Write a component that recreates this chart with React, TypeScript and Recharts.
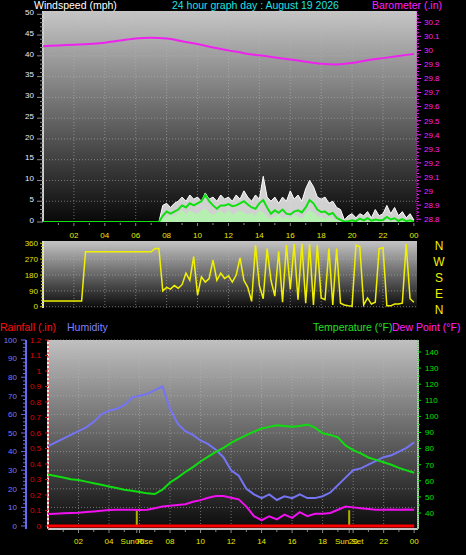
import React from 'react';
import { ComposedChart, Line, Area, XAxis, YAxis, CartesianGrid, ReferenceLine } from 'recharts';

const FONT = '"Liberation Sans", Arial, Helvetica, sans-serif';

// ---------------- texts ----------------
const TITLE = '24 hour graph day : August 19 2026';
const WIND_TITLE = 'Windspeed (mph)';
const BARO_TITLE = 'Barometer (.in)';
const RAIN_TITLE = 'Rainfall (.in)';
const HUM_TITLE = 'Humidity';
const TEMP_TITLE = 'Temperature (\u00b0F)';
const DEW_TITLE = 'Dew Point (\u00b0F)';

// ---------------- tick labels ----------------
const HOUR_MAJORS = [2, 4, 6, 8, 10, 12, 14, 16, 18, 20, 22, 24];
const WIND_MAJORS = [0, 5, 10, 15, 20, 25, 30, 35, 40, 45, 50];
const BARO_MAJORS = [28.8, 28.9, 29, 29.1, 29.2, 29.3, 29.4, 29.5, 29.6, 29.7, 29.8, 29.9, 30, 30.1, 30.2];
const DIR_MAJORS = [0, 90, 180, 270, 360];
const DIR_LETTERS = ['N', 'E', 'S', 'W', 'N'];
const HUM_MAJORS = [0, 10, 20, 30, 40, 50, 60, 70, 80, 90, 100];
const RAIN_MAJORS = [0, 0.1, 0.2, 0.3, 0.4, 0.5, 0.6, 0.7, 0.8, 0.9, 1, 1.1, 1.2];
const TEMP_MAJORS = [40, 50, 60, 70, 80, 90, 100, 110, 120, 130, 140];
const SUNRISE_H = 5.82;
const SUNSET_H = 19.74;

// ---------------- data ----------------
// wind, every 15 minutes from 00:00 to 24:00
const WIND_STEP_H = 0.25;
const windGust = [
  0, 0, 0, 0, 0, 0, 0, 0, 0, 0, 0, 0, 0, 0, 0, 0, 0, 0, 0, 0, 0, 0, 0, 0, 0, 0, 0, 0, 0, 0, 0,
  4, 4.5, 3.5, 4.5, 5, 6, 5, 6.5, 5.5, 6,
  5, 7, 5.5, 6, 5, 6.5, 5.5, 6, 5, 6.5,
  5.5, 7.5, 6, 5, 6.5, 5.5, 11, 6, 5, 6,
  4.5, 6, 5, 7.5, 5.5, 6.5, 5, 8, 10, 8.5,
  6, 5.5, 6, 4.5, 5, 3.5, 3, 0.5, 1.5, 2,
  1, 2, 1.5, 2.5, 1, 3, 1.5, 2, 4, 2,
  3.5, 1.5, 2.5, 1, 2, 0.5,
];
const windAvg = [
  0, 0, 0, 0, 0, 0, 0, 0, 0, 0, 0, 0, 0, 0, 0, 0, 0, 0, 0, 0, 0, 0, 0, 0, 0, 0, 0, 0, 0, 0, 0,
  1.5, 2.5, 2, 2.5, 3, 4, 3.5, 4.5, 4, 4.5,
  5, 6.5, 5, 4, 3.2, 4, 4, 4.3, 3.8, 4,
  4.5, 5, 4.2, 3.5, 3.2, 4.5, 5.3, 3.5, 2, 2.8,
  2.2, 3, 2, 1.8, 2.5, 2.8, 2.3, 3.5, 5.3, 4.5,
  3, 2.4, 2.5, 1.8, 2.2, 1, 0.5, 0.1, 0.2, 0.4,
  0.2, 0.8, 0.4, 0.9, 0.3, 0.6, 0.4, 0.5, 1.2, 0.6,
  0.9, 0.3, 0.7, 0.2, 0.4, 0.1,
];
const windLow = [
  0, 0, 0, 0, 0, 0, 0, 0, 0, 0, 0, 0, 0, 0, 0, 0, 0, 0, 0, 0, 0, 0, 0, 0, 0, 0, 0, 0, 0, 0, 0,
  0.5, 1, 1.5, 1, 2, 2.5, 1.5, 2.5, 2, 1.5,
  2.5, 3, 2, 1.5, 2, 2.5, 1.5, 2.5, 1.5, 2,
  2.5, 2, 1.5, 2, 1, 2.5, 2, 1, 0.5, 1,
  1.5, 0.5, 1, 0.5, 1.5, 1, 0.5, 1.5, 2.5, 2,
  1, 1, 0.5, 1, 0.5, 0.2, 0, 0, 0, 0,
  0, 0, 0, 0, 0, 0, 0, 0, 0, 0,
  0, 0, 0, 0, 0, 0,
];
const windDir = [
  32, 32, 32, 32, 32, 32, 32, 32, 32, 32, 32,
  312, 312, 312, 312, 312, 312, 312, 312, 312, 312, 312, 312, 312, 312, 312, 312, 312, 312,
  331, 331,
  90, 110, 100, 120, 105, 125, 190, 150, 284, 66,
  170, 140, 160, 265, 150, 190, 160, 175, 140, 180,
  277, 150, 110, 30, 350, 120, 45, 330, 150, 60,
  315, 25, 350, 100, 355, 40, 358, 20, 355, 10,
  350, 50, 40, 330, 10, 330, 20, 10, 5, 3,
  350, 340, 10, 50, 15, 25, 330, 335, 5, 5,
  15, 15, 20, 355, 45, 25,
];
// barometer, hourly
const BARO_STEP_H = 1;
const barometer = [
  30.03, 30.035, 30.04, 30.045, 30.055, 30.07, 30.085, 30.09, 30.085, 30.065,
  30.045, 30.02, 30.0, 29.98, 29.965, 29.95, 29.935, 29.92, 29.905, 29.9,
  29.91, 29.93, 29.945, 29.96, 29.975,
];
// climate, every 30 minutes
const CLIMATE_STEP_H = 0.5;
const humidity = [
  43, 45, 47, 49, 51, 53, 56, 60, 62, 63,
  65, 69, 70, 71, 73, 75, 63, 55, 51, 49,
  46, 44, 41, 37, 30, 27, 20, 17, 15, 17,
  14, 16, 15, 17, 15, 15, 16, 18, 22, 26,
  30, 31, 33, 35, 37, 38, 40, 42, 45,
];
const temperature = [
  64, 63, 62, 61, 60.5, 59.5, 58.5, 57.5, 56.5, 55.5,
  54.5, 53.8, 53, 52.2, 51.8, 54.5, 59, 62, 65.5, 68.5,
  72, 75, 78, 80.5, 83.5, 86, 88.4, 90.5, 92.5, 93.5,
  94.5, 94, 93.5, 94, 95, 93, 89.5, 88.5, 87, 82,
  79, 77, 74.5, 73, 71.5, 70, 68, 66.5, 65,
];
const dewPoint = [
  39.4, 39.6, 39.8, 40, 40.2, 40.6, 41, 41.4, 41.8, 42,
  42, 42, 41.9, 42, 43, 44, 44.5, 45, 45.5, 47,
  48, 49.5, 50.5, 50.5, 49.5, 48.5, 44, 38, 35.5, 38,
  36, 39, 37, 40.5, 38, 39.5, 39.5, 40, 42, 44,
  43.5, 43, 42.5, 42, 42, 42.2, 42, 42.2, 42,
];
const RAIN_STEP_H = 1;
const rainfall = [0, 0, 0, 0, 0, 0, 0, 0, 0, 0, 0, 0, 0, 0, 0, 0, 0, 0, 0, 0, 0, 0, 0, 0, 0];

// ---------------- helpers ----------------
const series = (step: number, values: number[]) => values.map((v, i) => ({ h: i * step, v }));
const steps = (a: number, b: number, s: number) => {
  const out: number[] = [];
  for (let i = 0; a + i * s <= b + 1e-9; i++) out.push(+(a + i * s).toFixed(4));
  return out;
};
const isIn = (arr: number[], v: number) => arr.some((m) => Math.abs(m - v) < 1e-6);
const pad2 = (v: number) => {
  const h = Math.round(v) % 24;
  return h < 10 ? '0' + h : String(h);
};
const dec = (v: number) => String(+v.toFixed(1));

type TickCfg = {
  side: 'left' | 'right' | 'bottom';
  majors: number[];
  fmt: (v: number) => string;
  color: string;
  tickColor: string;
  majorLen: number;
  minorLen: number;
  gap: number;
  fontSize: number;
  shift?: number;
  anchorMiddle?: boolean;
};

function makeTick(c: TickCfg) {
  return function TickItem(p: any) {
    const v = Number(p.payload?.value);
    const major = isIn(c.majors, v);
    const len = major ? c.majorLen : c.minorLen;
    const x = Number(p.x);
    const y = Number(p.y);
    const sh = c.shift ?? 0;
    const common = { fill: c.color, fontSize: c.fontSize, fontFamily: FONT };
    if (c.side === 'left') {
      return (
        <g>
          {len > 0 && <line x1={x - len} y1={y} x2={x} y2={y} stroke={c.tickColor} strokeWidth={1} />}
          {major && (
            <text x={x - len - c.gap} y={y + sh} dy="0.35em" textAnchor="end" {...common}>
              {c.fmt(v)}
            </text>
          )}
        </g>
      );
    }
    if (c.side === 'right') {
      return (
        <g>
          {len > 0 && <line x1={x} y1={y} x2={x + len} y2={y} stroke={c.tickColor} strokeWidth={1} />}
          {major && (
            <text
              x={x + len + c.gap}
              y={y + sh}
              dy="0.35em"
              textAnchor={c.anchorMiddle ? 'middle' : 'start'}
              {...common}
            >
              {c.fmt(v)}
            </text>
          )}
        </g>
      );
    }
    return (
      <g>
        {len > 0 && <line x1={x} y1={y + 1} x2={x} y2={y + 1 + len} stroke={c.tickColor} strokeWidth={1} />}
        {major && (
          <text x={x} y={y + c.gap} textAnchor="middle" {...common}>
            {c.fmt(v)}
          </text>
        )}
      </g>
    );
  };
}

const Gradient = ({ id, top, bottom }: { id: string; top: string; bottom: string }) => (
  <defs>
    <linearGradient id={id} x1="0" y1="0" x2="0" y2="1">
      <stop offset="0" stopColor={top} />
      <stop offset="1" stopColor={bottom} />
    </linearGradient>
  </defs>
);

const GRID_STROKE = '#b8b8b8';
const X1_DOMAIN: [number, number] = [0, 24.2];
const X3_DOMAIN: [number, number] = [0, 24.25];

// ---------------- chart 1: wind + barometer ----------------
function WindChart() {
  const hourTick = makeTick({
    side: 'bottom', majors: HOUR_MAJORS, fmt: pad2, color: '#e8e800', tickColor: '#8a8a8a',
    majorLen: 3, minorLen: 2, gap: 15.5, fontSize: 8,
  });
  const windTick = makeTick({
    side: 'left', majors: WIND_MAJORS, fmt: (v) => String(v), color: '#e4ecff', tickColor: '#8c8c8c',
    majorLen: 6, minorLen: 3, gap: 3, fontSize: 8, shift: -2,
  });
  const baroTick = makeTick({
    side: 'right', majors: BARO_MAJORS, fmt: dec, color: '#ff20ff', tickColor: '#ff20ff',
    majorLen: 4, minorLen: 2, gap: 3, fontSize: 8,
  });
  return (
    <ComposedChart width={466} height={245} margin={{ top: 11, right: 0, bottom: 0, left: 0 }}>
      <Gradient id="bg1" top="#c6c6c6" bottom="#080808" />
      <XAxis
        type="number" dataKey="h" domain={X1_DOMAIN} allowDataOverflow
        ticks={steps(1, 24, 1)} interval={0} height={23}
        tickSize={0} tickMargin={0} tickLine={false} axisLine={false} tick={hourTick}
      />
      <YAxis
        yAxisId="wind" orientation="left" width={43} type="number" domain={[0, 50.8]} allowDataOverflow
        ticks={steps(0, 50, 1)} interval={0} tickSize={0} tickMargin={0} tickLine={false} axisLine={false}
        tick={windTick}
      />
      <YAxis
        yAxisId="baro" orientation="right" width={49} type="number" domain={[28.78, 30.28]} allowDataOverflow
        ticks={steps(28.8, 30.25, 0.025)} interval={0} tickSize={0} tickMargin={0} tickLine={false}
        axisLine={{ stroke: '#ff00ff', strokeDasharray: '1 1', strokeWidth: 1 }}
        tick={baroTick}
      />
      <CartesianGrid
        yAxisId="wind" fill="url(#bg1)" stroke={GRID_STROKE} strokeOpacity={0.55} strokeDasharray="1 2"
        horizontalValues={WIND_MAJORS.slice(1)} verticalValues={HOUR_MAJORS.slice(0, 11)}
      />
      <ReferenceLine yAxisId="wind" x={0} stroke="#cfcfcf" strokeWidth={2} />
      <Line
        yAxisId="baro" data={series(BARO_STEP_H, barometer)} dataKey="v" type="monotone"
        stroke="#ee22ee" strokeWidth={2} dot={false} activeDot={false} isAnimationActive={false}
      />
      <Area
        yAxisId="wind" data={series(WIND_STEP_H, windGust)} dataKey="v" type="linear"
        stroke="#ffffff" strokeWidth={1} fill="#e6e6e6" fillOpacity={0.9} dot={false} activeDot={false}
        isAnimationActive={false}
      />
      <Area
        yAxisId="wind" data={series(WIND_STEP_H, windLow)} dataKey="v" type="linear"
        stroke="#b6f0b0" strokeWidth={2} fill="#b6f0b0" fillOpacity={1} dot={false} activeDot={false}
        isAnimationActive={false}
      />
      <Line
        yAxisId="wind" data={series(WIND_STEP_H, windAvg)} dataKey="v" type="linear"
        stroke="#10e010" strokeWidth={2} dot={false} activeDot={false} isAnimationActive={false}
      />
    </ComposedChart>
  );
}

// ---------------- chart 2: wind direction ----------------
function DirChart() {
  const dirTick = makeTick({
    side: 'left', majors: DIR_MAJORS, fmt: (v) => String(v), color: '#e0e000', tickColor: '#c8c800',
    majorLen: 3, minorLen: 2, gap: 2, fontSize: 8,
  });
  const letterTick = makeTick({
    side: 'right', majors: DIR_MAJORS, fmt: (v) => DIR_LETTERS[DIR_MAJORS.indexOf(v)],
    color: '#f0f000', tickColor: '#f0f000', majorLen: 0, minorLen: 0, gap: 22, fontSize: 12, shift: 3,
    anchorMiddle: true,
  });
  return (
    <ComposedChart width={466} height={90} margin={{ top: 13, right: 0, bottom: 10, left: 0 }}>
      <Gradient id="bg2" top="#c4c4c4" bottom="#0a0a0a" />
      <XAxis type="number" dataKey="h" domain={X1_DOMAIN} allowDataOverflow hide />
      <YAxis
        yAxisId="dir" orientation="left" width={43} type="number" domain={[-7.4, 373]} allowDataOverflow
        ticks={steps(0, 360, 18)} interval={0} tickSize={0} tickMargin={0} tickLine={false} axisLine={false}
        tick={dirTick}
      />
      <YAxis
        yAxisId="letters" orientation="right" width={49} type="number" domain={[-7.4, 373]} allowDataOverflow
        ticks={DIR_MAJORS} interval={0} tickSize={0} tickMargin={0} tickLine={false} axisLine={false}
        tick={letterTick}
      />
      <CartesianGrid
        yAxisId="dir" fill="url(#bg2)" stroke={GRID_STROKE} strokeOpacity={0.55} strokeDasharray="1 2"
        horizontalValues={DIR_MAJORS} verticalValues={HOUR_MAJORS.slice(0, 11)}
      />
      <ReferenceLine yAxisId="dir" x={0} stroke="#e0e0e0" strokeWidth={2} />
      <Line
        yAxisId="dir" data={series(WIND_STEP_H, windDir)} dataKey="v" type="linear"
        stroke="#f0f000" strokeWidth={1.5} dot={false} activeDot={false} isAnimationActive={false}
      />
    </ComposedChart>
  );
}

// ---------------- chart 3: climate ----------------
// axis ids are ordered so that the rainfall axis sits next to the plot
const RAIN_AXIS = 'a_rain';
const HUM_AXIS = 'b_hum';
const TEMP_AXIS = 'c_temp';

function ClimateChart() {
  const labelMap = (v: number) =>
    Math.abs(v - SUNRISE_H) < 1e-6 ? 'Sun Rise' : Math.abs(v - SUNSET_H) < 1e-6 ? 'Sun Set' : pad2(v);
  const hourTick = makeTick({
    side: 'bottom', majors: [...HOUR_MAJORS, SUNRISE_H, SUNSET_H], fmt: labelMap, color: '#e8e800',
    tickColor: '#8a8a8a', majorLen: 3, minorLen: 2, gap: 15.3, fontSize: 8,
  });
  const humTick = makeTick({
    side: 'left', majors: HUM_MAJORS, fmt: (v) => String(v), color: '#7878ff', tickColor: '#6a6aee',
    majorLen: 5, minorLen: 3, gap: 4, fontSize: 8,
  });
  const rainTick = makeTick({
    side: 'left', majors: RAIN_MAJORS, fmt: dec, color: '#e00000', tickColor: '#e00000',
    majorLen: 3, minorLen: 0, gap: 4, fontSize: 8,
  });
  const tempTick = makeTick({
    side: 'right', majors: TEMP_MAJORS, fmt: (v) => String(v), color: '#00e000', tickColor: '#00e000',
    majorLen: 3, minorLen: 2, gap: 4, fontSize: 8,
  });
  const hourTicks = [...steps(1, 24, 1), SUNRISE_H, SUNSET_H].sort((a, b) => a - b);
  return (
    <ComposedChart width={466} height={225} margin={{ top: 10, right: 0, bottom: 0, left: 0 }}>
      <Gradient id="bg3" top="#c0c0c0" bottom="#0a0a0a" />
      <XAxis
        type="number" dataKey="h" domain={X3_DOMAIN} allowDataOverflow ticks={hourTicks} interval={0}
        height={26} tickSize={0} tickMargin={0} tickLine={false}
        axisLine={{ stroke: '#c4c4c4', strokeWidth: 2 }} tick={hourTick}
      />
      <YAxis
        yAxisId={RAIN_AXIS} orientation="left" width={22} type="number" domain={[-0.0194, 1.2]} allowDataOverflow
        ticks={RAIN_MAJORS} interval={0} tickSize={0} tickMargin={0} tickLine={false}
        axisLine={{ stroke: '#e00000', strokeDasharray: '2 2', strokeWidth: 1 }} tick={rainTick}
      />
      <YAxis
        yAxisId={HUM_AXIS} orientation="left" width={26} type="number" domain={[-1.6, 100]} allowDataOverflow
        ticks={steps(0, 100, 2)} interval={0} tickSize={0} tickMargin={0} tickLine={false}
        axisLine={{ stroke: '#6a6aee', strokeWidth: 2 }} tick={humTick}
      />
      <YAxis
        yAxisId={TEMP_AXIS} orientation="right" width={48} type="number" domain={[30.07, 147.45]} allowDataOverflow
        ticks={steps(40, 140, 5)} interval={0} tickSize={0} tickMargin={0} tickLine={false}
        axisLine={{ stroke: '#00d000', strokeDasharray: '1 1', strokeWidth: 1 }} tick={tempTick}
      />
      <CartesianGrid
        yAxisId={HUM_AXIS} fill="url(#bg3)" stroke={GRID_STROKE} strokeOpacity={0.55} strokeDasharray="1 2"
        horizontalValues={HUM_MAJORS.slice(1)} verticalValues={HOUR_MAJORS.slice(0, 11)}
      />
      <ReferenceLine yAxisId={HUM_AXIS} x={0} stroke="#ececec" strokeWidth={2} />
      <ReferenceLine yAxisId={HUM_AXIS} x={X3_DOMAIN[1]} stroke="#c4c4c4" strokeWidth={2} />
      <ReferenceLine
        yAxisId={HUM_AXIS} segment={[{ x: SUNRISE_H, y: 0 }, { x: SUNRISE_H, y: 8.5 }]}
        stroke="#b0b000" strokeWidth={2}
      />
      <ReferenceLine
        yAxisId={HUM_AXIS} segment={[{ x: SUNSET_H, y: 0 }, { x: SUNSET_H, y: 8.5 }]}
        stroke="#b0b000" strokeWidth={2}
      />
      <Line
        yAxisId={HUM_AXIS} data={series(CLIMATE_STEP_H, humidity)} dataKey="v" type="linear"
        stroke="#7474f4" strokeWidth={2} dot={false} activeDot={false} isAnimationActive={false}
      />
      <Line
        yAxisId={TEMP_AXIS} data={series(CLIMATE_STEP_H, temperature)} dataKey="v" type="linear"
        stroke="#10dd10" strokeWidth={2} dot={false} activeDot={false} isAnimationActive={false}
      />
      <Line
        yAxisId={TEMP_AXIS} data={series(CLIMATE_STEP_H, dewPoint)} dataKey="v" type="linear"
        stroke="#f010f0" strokeWidth={2} dot={false} activeDot={false} isAnimationActive={false}
      />
      <Line
        yAxisId={RAIN_AXIS} data={series(RAIN_STEP_H, rainfall)} dataKey="v" type="linear"
        stroke="#ff0000" strokeWidth={3} dot={false} activeDot={false} isAnimationActive={false}
      />
    </ComposedChart>
  );
}

const titleStyle = (left: number, top: number, color: string): React.CSSProperties => ({
  position: 'absolute', left, top, color, fontSize: 10.5, lineHeight: '12px', whiteSpace: 'nowrap',
  fontFamily: FONT,
});

export default function App() {
  return (
    <div
      style={{
        position: 'absolute', left: 0, top: 0, width: 466, height: 555, background: '#000',
        overflow: 'hidden', fontFamily: FONT,
      }}
    >
      <div style={{ position: 'absolute', left: 0, top: 0 }}>
        <WindChart />
      </div>
      <div style={{ position: 'absolute', left: 0, top: 228 }}>
        <DirChart />
      </div>
      <div style={{ position: 'absolute', left: 0, top: 330 }}>
        <ClimateChart />
      </div>
      <div style={titleStyle(34, -1, '#ffffff')}>{WIND_TITLE}</div>
      <div style={titleStyle(172, -1, '#20e0e0')}>{TITLE}</div>
      <div style={titleStyle(372, -1, '#ff20ff')}>{BARO_TITLE}</div>
      <div style={titleStyle(0, 321, '#ff1010')}>{RAIN_TITLE}</div>
      <div style={titleStyle(67, 321, '#8080ff')}>{HUM_TITLE}</div>
      <div style={titleStyle(313, 321, '#20e020')}>{TEMP_TITLE}</div>
      <div style={titleStyle(392, 321, '#ff20ff')}>{DEW_TITLE}</div>
    </div>
  );
}
